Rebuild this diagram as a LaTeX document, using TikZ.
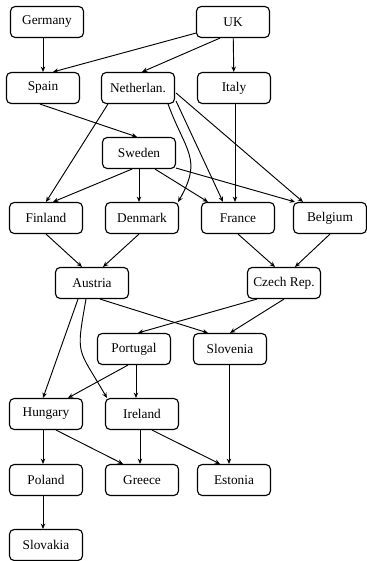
\documentclass[tikz,border=0pt]{standalone}
\usepackage{fontspec}
\setmainfont{Liberation Serif}
\usetikzlibrary{arrows.meta,calc}

\begin{document}
\begin{tikzpicture}[
  x=0.75pt, y=0.75pt,
  >={Stealth[length=4pt, width=3.4pt]},
  box/.style ={draw, line width=0.85pt, rounded corners=3.5pt, align=center,
               inner sep=1pt, minimum width=54.75pt, minimum height=23.25pt},
  lnk/.style ={->, line width=0.7pt},
]
\useasboundingbox (0,0) rectangle (367,-561);

%% ---------------- layers ----------------
\node[box] (ger) at (47,-22)   {Germany};
\node[box] (uk)  at (233,-22)  {UK};

\node[box] (spa) at (43,-88)   {Spain};
\node[box] (ned) at (138,-88)  {Netherlan.};
\node[box] (ita) at (234,-88)  {Italy};

\node[box] (swe) at (139,-153) {Sweden};

\node[box] (fin) at (46,-218)  {Finland};
\node[box] (den) at (142,-218) {Denmark};
\node[box] (fra) at (238,-218) {France};
\node[box] (bel) at (330,-218) {Belgium};

\node[box] (aut) at (92,-283)  {Austria};
\node[box] (cze) at (284,-283) {Czech Rep.};

\node[box] (por) at (134,-349) {Portugal};
\node[box] (slo) at (230,-349) {Slovenia};

\node[box] (hun) at (46,-414)  {Hungary};
\node[box] (ire) at (142,-414) {Ireland};

\node[box] (pol) at (46,-480)  {Poland};
\node[box] (gre) at (142,-480) {Greece};
\node[box] (est) at (234,-480) {Estonia};

\node[box] (svk) at (46,-545)  {Slovakia};

%% ---------------- top rows ----------------
\draw[lnk] (ger.south -| spa.north) -- (spa.north);
\draw[lnk] ($(uk.south west)+(0,5)$) -- ($(spa.north)+(10,0)$);
\draw[lnk] ($(uk.south)+(-13,0)$) -- ($(ned.north)+(4,0)$);
\draw[lnk] (uk) -- (ita);
\draw[lnk] ($(spa.south)+(-3,0)$) -- ($(swe.north)+(-2,0)$);

%% ---------------- into the fourth row ----------------
\draw[lnk] ($(ned.south west)+(7,0)$) -- (fin.north);
\draw[lnk] ($(ned.south east)+(-7,0)$) to[out=-70, in=60, looseness=1.3] ($(den.north east)+(-1,0)$);
\draw[lnk] ($(ned.south east)+(1,3)$) -- ($(fra.north)+(-15,0)$);
\draw[lnk] ($(ned.east)+(1,-5)$) -- ($(bel.north)+(-27,0)$);
\draw[lnk] (ita.south -| fra.north) ++(-3,0) -- ($(fra.north)+(-3,0)$);
\draw[lnk] ($(swe.south)+(-7,0)$) -- ($(fin.north)+(7,0)$);
\draw[lnk] (swe) -- (swe |- den.north);
\draw[lnk] ($(swe.south)+(16,0)$) -- ($(fra.north)+(-30,0)$);
\draw[lnk] ($(swe.south east)+(0,1)$) -- ($(bel.north)+(-35,0)$);

%% ---------------- middle ----------------
\draw[lnk] (fin.south) -- ($(aut.north)+(-10,0)$);
\draw[lnk] ($(den.south)+(-3,0)$) -- ($(aut.north)+(11,0)$);
\draw[lnk] (fra.south) -- ($(cze.north)+(-9,0)$);
\draw[lnk] (bel.south) -- ($(cze.north)+(11,0)$);
\draw[lnk] ($(aut.south)+(8,0)$) -- ($(slo.north)+(-22,0)$);
\draw[lnk] ($(aut.south)+(-14,0)$) -- ($(hun.north)+(-3,0)$);
\draw[lnk] ($(aut.south)+(-6,0)$) to[out=-100, in=120, looseness=1.5] ($(ire.north west)+(2,0)$);
\draw[lnk] ($(cze.south west)+(10,0)$) -- ($(por.north)+(4,0)$);
\draw[lnk] (cze.south) -- (slo.north);

%% ---------------- bottom rows ----------------
\draw[lnk] ($(por.south)+(-6,0)$) -- ($(hun.north)+(22,0)$);
\draw[lnk] ($(por.south)+(2,0)$) -- ($(por.south |- ire.north)+(2,0)$);
\draw[lnk] ($(slo.south)+(-1,0)$) -- ($(slo.south |- est.north)+(-1,0)$);
\draw[lnk] ($(hun.south)+(-3,0)$) -- ($(pol.north)+(-3,0)$);
\draw[lnk] ($(hun.south)+(10,0)$) -- ($(gre.north)+(-19,0)$);
\draw[lnk] ($(ire.south)+(-2,0)$) -- ($(gre.north)+(-2,0)$);
\draw[lnk] ($(ire.south)+(10,0)$) -- ($(est.north)+(-14,0)$);
\draw[lnk] ($(pol.south)+(-3,0)$) -- ($(svk.north)+(-3,0)$);

\end{tikzpicture}
\end{document}
